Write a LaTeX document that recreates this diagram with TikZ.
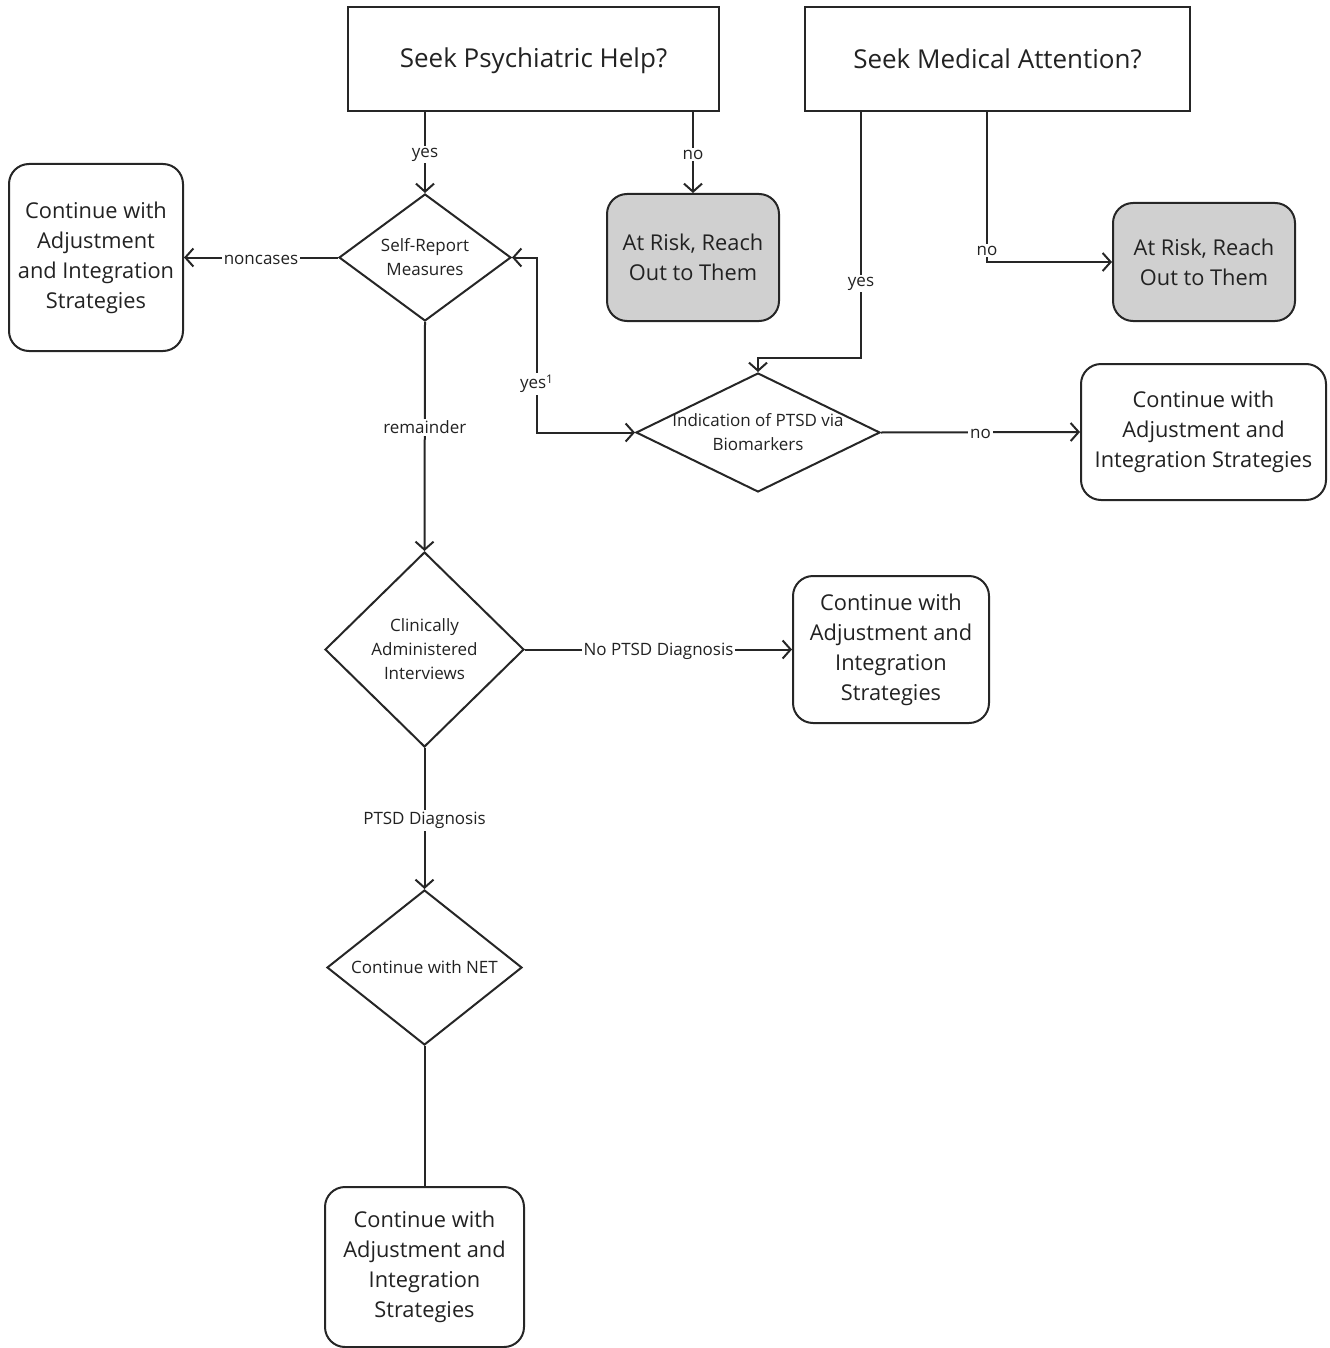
\documentclass[tikz,border=0pt]{standalone}
\usepackage{fontspec}
\setmainfont{Open Sans}
\usetikzlibrary{shapes.geometric,arrows.meta}
\definecolor{txt}{HTML}{222222}
\definecolor{boxgray}{HTML}{D0D0D0}
\tikzset{
  line/.style={draw=black!85, line width=1pt},
  arr/.style={line, -{Straight Barb[length=4pt,width=9pt]}},
  darr/.style={line, {Straight Barb[length=4pt,width=9pt]}-{Straight Barb[length=4pt,width=9pt]}},
  sqbox/.style={line, rectangle, inner sep=0pt, text=txt, font=\fontsize{13}{16}\selectfont, align=center},
  rbox/.style={line, rectangle, rounded corners=10pt, inner sep=0pt, text=txt, font=\fontsize{10.9}{15}\selectfont, align=center, fill=white},
  gbox/.style={rbox, fill=boxgray},
  dia/.style={line, diamond, inner sep=0pt, aspect=1, fill=white},
  diatext/.style={text=txt, font=\fontsize{8.5}{12}\selectfont, align=center, inner sep=0pt},
  lbl/.style={fill=white, text=txt, font=\fontsize{8.5}{10}\selectfont, inner sep=1pt, yshift=-1pt}
}
\begin{document}
\begin{tikzpicture}[x=0.5pt, y=-0.5pt]
\useasboundingbox (0,0) rectangle (1329,1348);
% top boxes
\node[sqbox, minimum width=185.5pt, minimum height=52pt] (sp) at (533.5,59) {};
\node[text=txt, font=\fontsize{13}{16}\selectfont, inner sep=0pt] at (533.5,60.5) {Seek Psychiatric Help?};
\node[sqbox, minimum width=192.5pt, minimum height=52pt] (sm) at (997.5,59) {Seek Medical Attention?};
% diamonds
\node[dia, minimum width=86pt, minimum height=63.5pt] (sr) at (425,257.5) {};
\node[diatext] at (sr) {Self-Report\\Measures};
\node[dia, minimum width=122pt, minimum height=59.5pt] (ind) at (758,432.5) {};
\node[diatext] at (ind) {Indication of PTSD via\\Biomarkers};
\node[dia, minimum width=99.5pt, minimum height=97.5pt] (cl) at (424.5,649.5) {};
\node[diatext] at (cl) {Clinically\\Administered\\Interviews};
\node[dia, minimum width=97.5pt, minimum height=77.5pt] (net) at (424.5,967.5) {};
\node[diatext] at (net) {Continue with NET};
% rounded boxes
\node[rbox, minimum width=87pt, minimum height=93.5pt] (lb) at (96,257.5) {Continue with\\Adjustment\\and Integration\\Strategies};
\node[gbox, minimum width=86pt, minimum height=63.5pt] (ar1) at (693,257.5) {At Risk, Reach\\Out to Them};
\node[gbox, minimum width=91pt, minimum height=59pt] (ar2) at (1204,262) {At Risk, Reach\\Out to Them};
\node[rbox, minimum width=122.5pt, minimum height=68pt] (rb) at (1203.5,432) {Continue with\\Adjustment and\\Integration Strategies};
\node[rbox, minimum width=98pt, minimum height=73.5pt] (mb) at (891,649.5) {Continue with\\Adjustment and\\Integration\\Strategies};
\node[rbox, minimum width=99.5pt, minimum height=80pt] (bb) at (424.5,1267) {Continue with\\Adjustment and\\Integration\\Strategies};
% helper coordinates
\coordinate (c1) at (861,358);
\coordinate (c2) at (987,262);
\coordinate (c3) at (537,432.5);
% connectors
\draw[arr] (sp.south -| sr.north) -- node[lbl] {yes} (sr.north);
\draw[arr] (sp.south -| ar1.north) -- node[lbl] {no} (ar1.north);
\draw[arr] (sm.south -| c1) -- node[lbl, pos=0.69] {yes} (c1) -| (ind.north);
\draw[arr] (sm.south -| c2) -- node[lbl, pos=0.91] {no} (c2) -- (ar2.west);
\draw[arr] (sr.west) -- node[lbl] {noncases} (lb.east);
\draw[arr] (sr.south) -- node[lbl, pos=0.45] {remainder} (cl.north);
\draw[darr] (sr.east) -| node[lbl, pos=0.855] {yes\textsuperscript{1}} (c3) -- (ind.west);
\draw[arr] (ind.east) -- node[lbl] {no} (rb.west);
\draw[arr] (cl.east) -- node[lbl] {No PTSD Diagnosis} (mb.west);
\draw[arr] (cl.south) -- node[lbl] {PTSD Diagnosis} (net.north);
\draw[line] (net.south) -- (bb.north);
\end{tikzpicture}
\end{document}
